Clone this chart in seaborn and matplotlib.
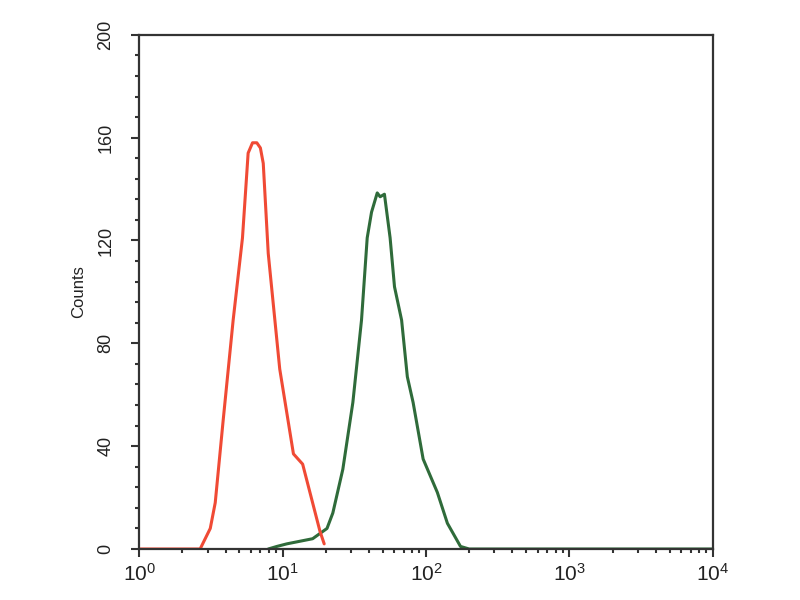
import numpy as np
import pandas as pd
import seaborn as sns
import matplotlib
matplotlib.use("Agg")
import matplotlib.pyplot as plt
from matplotlib.ticker import LogLocator, LogFormatterMathtext, MultipleLocator

# Data (fluorescence intensity vs. counts)
red_x = [1.0, 2.66, 3.13, 3.39, 3.85, 4.52, 5.25, 5.75, 6.17, 6.61, 7.0, 7.33,
         7.94, 9.55, 11.9, 13.8, 18.2, 19.5]
red_y = [0, 0, 8, 18, 50, 89, 121, 154, 158, 158, 156, 150,
         115, 70, 37, 33, 7, 2]
green_x = [7.94, 9.12, 10.7, 16.2, 20.4, 22.4, 26.3, 30.9, 35.5, 38.9, 41.7,
           45.7, 47.9, 51.3, 56.2, 60.3, 67.6, 74.1, 81.3, 95.5, 120, 141,
           174, 200, 10000]
green_y = [0, 1, 2, 4, 8, 14, 31, 57, 89, 121, 131,
           138.5, 137, 138, 121, 102, 89, 67, 57, 35, 22, 10,
           1, 0, 0]
y_ticks = [0, 40, 80, 120, 160, 200]

sns.set_theme(style="ticks")
plt.rcParams["font.family"] = ["Liberation Sans", "DejaVu Sans"]
plt.rcParams["mathtext.default"] = "regular"

df_red = pd.DataFrame({"x": red_x, "y": red_y})
df_green = pd.DataFrame({"x": green_x, "y": green_y})

fig = plt.figure(figsize=(8, 6), dpi=100)
ax = fig.add_axes([0.174, 0.085, 0.717, 0.857])

sns.lineplot(data=df_green, x="x", y="y", ax=ax, color="#2f6b3a", lw=2.2,
             estimator=None, sort=False)
sns.lineplot(data=df_red, x="x", y="y", ax=ax, color="#f04a35", lw=2.2,
             estimator=None, sort=False)

ax.set_xscale("log")
ax.set_xlim(1, 10000)
ax.set_ylim(0, 200)
ax.xaxis.set_major_locator(LogLocator(base=10, numticks=10))
ax.xaxis.set_minor_locator(LogLocator(base=10, subs=np.arange(2, 10), numticks=20))
ax.xaxis.set_major_formatter(LogFormatterMathtext())
ax.set_yticks(y_ticks)
ax.yaxis.set_minor_locator(MultipleLocator(8))

for s in ax.spines.values():
    s.set_color("#333333")
    s.set_linewidth(1.6)

ax.tick_params(axis="both", which="major", direction="out", length=6, width=1.5,
               colors="#333333", labelcolor="#222222")
ax.tick_params(axis="x", which="major", labelsize=15, pad=4)
ax.tick_params(axis="y", which="major", labelsize=13, pad=12)
ax.tick_params(axis="both", which="minor", direction="out", length=3, width=1.5,
               colors="#333333")
for lab in ax.get_yticklabels():
    lab.set_rotation(90)
    lab.set_va("center")

ax.set_xlabel("")
ax.set_ylabel("Counts", fontsize=12, color="#222222", labelpad=8)

fig.savefig("out.png", dpi=100)
